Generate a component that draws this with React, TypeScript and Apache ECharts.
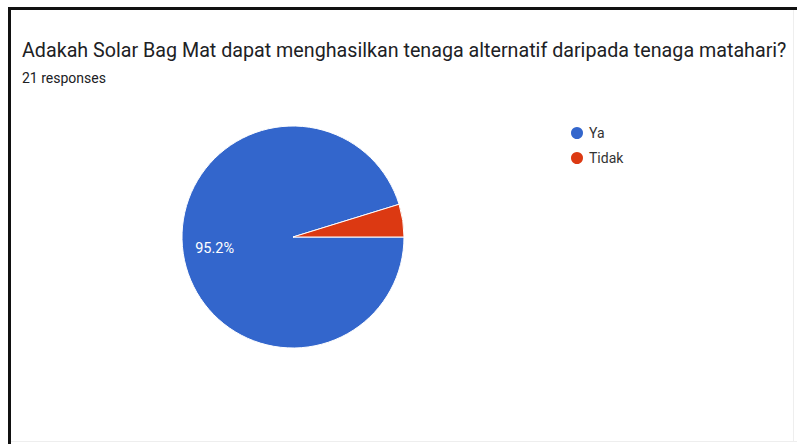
import React, { useEffect, useRef } from "react";
import * as echarts from "echarts";

const categories: string[] = ["Ya", "Tidak"];
const counts: number[] = [20, 1];
const colors: string[] = ["#3366CC", "#DC3912"];
const titleText = "Adakah Solar Bag Mat dapat menghasilkan tenaga alternatif daripada tenaga matahari?";
const subText = "21 responses";

export default function App() {
  const ref = useRef<HTMLDivElement>(null);
  useEffect(() => {
    if (!ref.current) return;
    const chart = echarts.init(ref.current, null, { renderer: "svg" });
    const total = counts.reduce((a, b) => a + b, 0);
    chart.setOption({
      animation: false,
      backgroundColor: "#ffffff",
      title: [
        {
          text: titleText,
          left: 17,
          top: 35,
          textStyle: { fontFamily: "Roboto", fontSize: 19.7, fontWeight: "normal", color: "#202124" },
        },
        {
          text: subText,
          left: 17,
          top: 66,
          textStyle: { fontFamily: "Roboto", fontSize: 14, fontWeight: "normal", color: "#202124" },
        },
      ],
      legend: {
        orient: "vertical",
        left: 564,
        top: 120,
        icon: "circle",
        itemWidth: 14,
        itemHeight: 14,
        itemGap: 9,
        data: categories,
        textStyle: { fontFamily: "Roboto", fontSize: 14, color: "#333333" },
      },
      graphic: [
        { type: "rect", shape: { x: 8, y: 7, width: 3, height: 437 }, style: { fill: "#111111" } },
        { type: "rect", shape: { x: 8, y: 7, width: 789, height: 3 }, style: { fill: "#111111" } },
        { type: "rect", shape: { x: 793, y: 10, width: 1, height: 431 }, style: { fill: "#eeeeee" } },
        { type: "rect", shape: { x: 11, y: 441, width: 786, height: 1 }, style: { fill: "#eeeeee" } },
      ],
      series: [
        {
          type: "pie",
          center: [293, 237],
          radius: 111,
          startAngle: 0,
          clockwise: true,
          avoidLabelOverlap: false,
          labelLine: { show: false },
          itemStyle: { borderColor: "#ffffff", borderWidth: 1 },
          data: categories.map((name, i) => ({
            name,
            value: counts[i],
            itemStyle: { color: colors[i] },
            label: {
              show: counts[i] / total > 0.05,
              position: "inside",
              offset: [-20.5, 3],
              formatter: () => ((counts[i] / total) * 100).toFixed(1) + "%",
              color: "#ffffff",
              fontFamily: "Roboto",
              fontSize: 14.5,
            },
          })),
        },
      ],
    });
    return () => chart.dispose();
  }, []);
  return (
    <div
      ref={ref}
      style={{ position: "fixed", left: 0, top: 0, width: 797, height: 444 }}
    />
  );
}
